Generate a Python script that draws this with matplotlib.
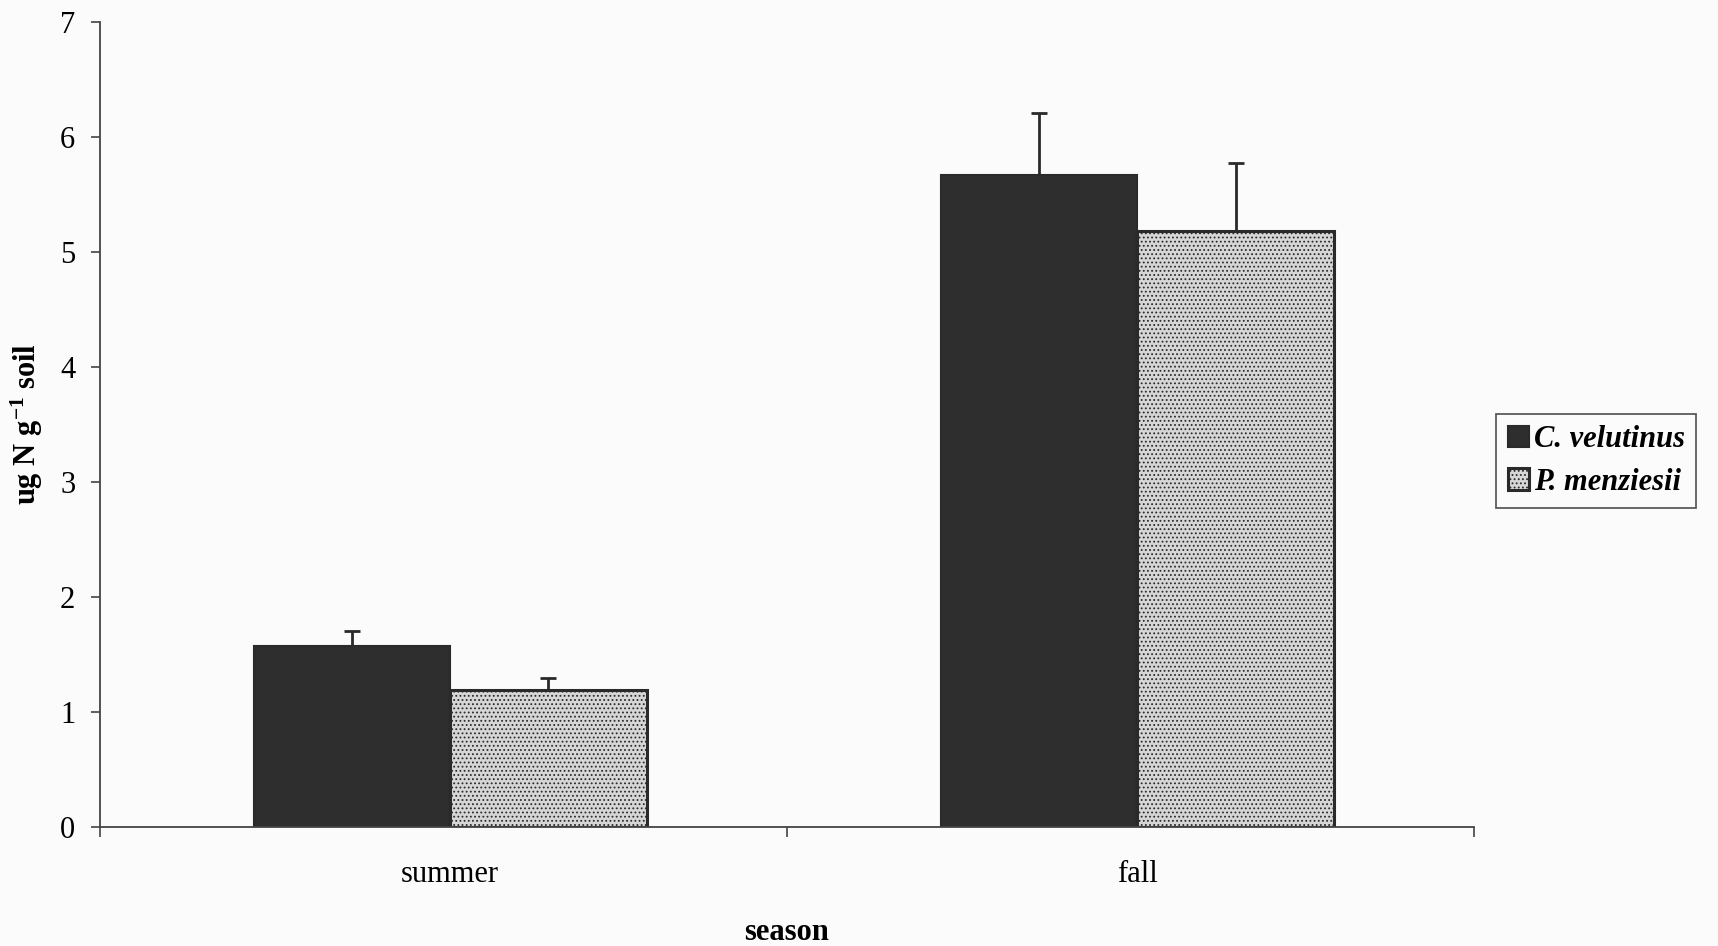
import matplotlib
matplotlib.use("Agg")
import matplotlib.pyplot as plt
import numpy as np

# soil nitrogen by season, mean with upper standard error
seasons = ["summer", "fall"]
species = ["C. velutinus", "P. menziesii"]
velutinus_mean = [1.57, 5.67]
velutinus_err = [0.13, 0.54]
menziesii_mean = [1.19, 5.18]
menziesii_err = [0.10, 0.59]

plt.rcParams["font.family"] = ["Liberation Serif", "DejaVu Serif"]
plt.rcParams["mathtext.fontset"] = "custom"
plt.rcParams["mathtext.bf"] = "Liberation Serif:bold"
plt.rcParams["mathtext.rm"] = "Liberation Serif"
plt.rcParams["mathtext.default"] = "bf"
plt.rcParams["hatch.color"] = "#a8a8a8"
plt.rcParams["hatch.linewidth"] = 0.8

fig = plt.figure(figsize=(17.18, 9.46), dpi=100, facecolor="#fbfbfb")
ax = fig.add_axes([0.058, 0.126, 0.800, 0.851])
ax.set_facecolor("#fbfbfb")

x = np.arange(len(seasons))
width = 0.286
shift = 0.01
ink = "#2a2a2a"

ax.bar(x + shift - width / 2, velutinus_mean, width, color="#2e2e2e",
       edgecolor=ink, linewidth=1.5, label=species[0], zorder=2)
ax.bar(x + shift + width / 2, menziesii_mean, width, color="#d6d6d6",
       edgecolor=ink, linewidth=2.2, hatch="....", label=species[1], zorder=2)

ax.errorbar(x + shift - width / 2, velutinus_mean,
            yerr=[np.zeros(len(x)), velutinus_err], fmt="none",
            ecolor=ink, elinewidth=2, capsize=5.5, capthick=2, zorder=1)
ax.errorbar(x + shift + width / 2, menziesii_mean,
            yerr=[np.zeros(len(x)), menziesii_err], fmt="none",
            ecolor=ink, elinewidth=2, capsize=5.5, capthick=2, zorder=1)

ax.set_xlim(-0.5, 1.5)
ax.set_ylim(0, 7)
ax.set_yticks(range(0, 8))

ax.set_xticks(x + shift)
ax.set_xticklabels(seasons)
ax.set_xticks([-0.5, 0.5, 1.5], minor=True)
ax.tick_params(axis="x", which="major", length=0, pad=24, labelsize=22)
ax.tick_params(axis="x", which="minor", length=7, width=1.2, color="#444444")
ax.tick_params(axis="y", length=6.5, width=1.2, color="#444444", pad=11, labelsize=22)

for side in ["top", "right"]:
    ax.spines[side].set_visible(False)
for side in ["left", "bottom"]:
    ax.spines[side].set_linewidth(1.3)
    ax.spines[side].set_color("#444444")

ax.set_xlabel("season", fontsize=22, fontweight="bold", labelpad=21)
ax.set_ylabel("ug N g$^{-1}$ soil", fontsize=22, fontweight="bold", labelpad=11)

leg = ax.legend(loc="upper left", bbox_to_anchor=(1.016, 0.513), borderaxespad=0,
                frameon=True, fancybox=False, edgecolor="#333333",
                prop={"family": "Liberation Serif", "style": "italic",
                      "weight": "bold", "size": 22},
                handlelength=0.7, handleheight=0.7, handletextpad=0.15,
                borderpad=0.38, labelspacing=0.43)
leg.get_frame().set_linewidth(1.3)
leg.get_frame().set_facecolor("#fbfbfb")

fig.savefig("out.png", dpi=100, facecolor=fig.get_facecolor())
